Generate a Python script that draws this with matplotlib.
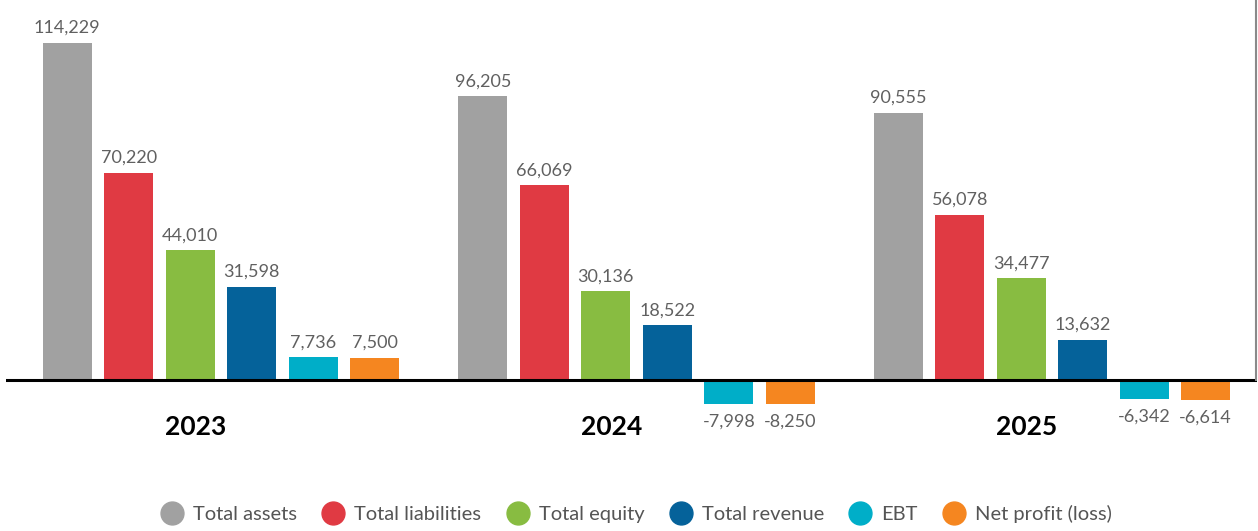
import matplotlib
matplotlib.use("Agg")
import matplotlib.pyplot as plt
from matplotlib.lines import Line2D
import matplotlib.transforms as mtransforms
import numpy as np

years = ["2023", "2024", "2025"]
series = ["Total assets", "Total liabilities", "Total equity", "Total revenue", "EBT", "Net profit (loss)"]
total_assets = [114229, 96205, 90555]
total_liabilities = [70220, 66069, 56078]
total_equity = [44010, 30136, 34477]
total_revenue = [31598, 18522, 13632]
ebt = [7736, -7998, -6342]
net_profit = [7500, -8250, -6614]
values = [total_assets, total_liabilities, total_equity, total_revenue, ebt, net_profit]
colors = ["#A1A1A1", "#E03A43", "#88BC41", "#05629A", "#00AEC8", "#F58620"]

W, H = 1258, 531
fig = plt.figure(figsize=(W / 100, H / 100), dpi=100)
plt.rcParams['font.family'] = ['Lato', 'DejaVu Sans']

# axes spans pixel x 6..1257, full height
ax = fig.add_axes([6 / W, 0, (1257 - 6) / W, 1])
px_per_unit = 415.5
x_left = (6 - 221) / px_per_unit
x_right = (1257 - 221) / px_per_unit
ax.set_xlim(x_left, x_right)
scale = 2.95 / 1000  # px per value unit
base_px = 380
ax.set_ylim(-(H - base_px) / scale, base_px / scale)
ax.axis("off")

step = 61.5 / px_per_unit
width = 49 / px_per_unit
x = np.arange(len(years))
for j, (name, vals, c) in enumerate(zip(series, values, colors)):
    pos = x + (j - 2.5) * step
    ax.bar(pos, vals, width=width, color=c, label=name, zorder=2)
    for xi, v in zip(pos, vals):
        if v >= 0:
            ax.annotate(f"{v:,}", (xi, v), xytext=(0, 5), textcoords="offset points",
                        ha="center", va="bottom", fontsize=13, color="#606060")
        else:
            ax.annotate(f"{v:,}", (xi, v), xytext=(0, -7), textcoords="offset points",
                        ha="center", va="top", fontsize=13, color="#606060")

# baseline
ax.axhline(0, color="black", lw=2.2, zorder=3)
# right border line
ax.plot([x_right - 1.5 / px_per_unit] * 2, [0, base_px / scale], color="#8a8a8a", lw=1.5,
        zorder=3, clip_on=False)

trans = mtransforms.blended_transform_factory(ax.transData, ax.transAxes)
for xi, yr in zip(x, years):
    ax.text(xi - 25 / px_per_unit, (H - 427) / H, yr, transform=trans, ha="center", va="center",
            fontsize=19, fontweight="bold", color="black")

handles = [Line2D([0], [0], marker="o", linestyle="", markersize=16.5, markerfacecolor=c,
                  markeredgecolor=c, label=s) for s, c in zip(series, colors)]
leg = fig.legend(handles=handles, loc="center", bbox_to_anchor=(636 / W, 1 - 514 / H), ncol=6,
                 frameon=False, fontsize=14.5, handletextpad=0.45, columnspacing=1.2,
                 handlelength=1.2)
for t in leg.get_texts():
    t.set_color("#555555")

fig.savefig("out.png", dpi=100)
